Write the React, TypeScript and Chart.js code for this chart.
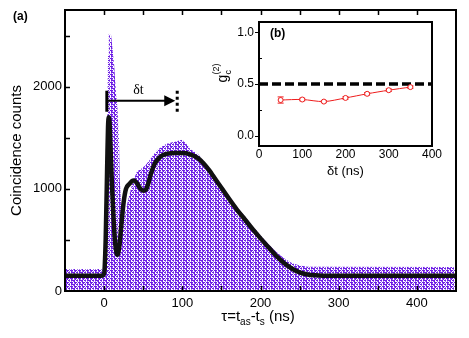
import React, { useEffect, useRef } from "react";
import { Chart, registerables } from "chart.js";
Chart.register(...registerables);

// ---- main panel (a) data ----
const fitTau = [-50, -3, 0, 2, 4, 5, 6, 7, 8, 10, 12, 14, 16, 17, 18, 20, 22, 25, 28, 32, 36, 38, 42, 46, 50, 53, 56, 60, 65, 70, 75, 80, 90, 100, 110, 120, 127, 135, 140, 150, 160, 170, 180, 190, 200, 210, 220, 230, 240, 250, 260, 270, 280, 450];
const fitCounts = [150, 150, 170, 500, 1250, 1600, 1700, 1650, 1450, 1050, 720, 480, 370, 355, 370, 470, 640, 870, 1000, 1045, 1078, 1082, 1055, 1005, 982, 988, 1040, 1150, 1250, 1300, 1330, 1342, 1350, 1350, 1338, 1300, 1250, 1175, 1120, 1010, 900, 795, 700, 605, 515, 430, 345, 275, 220, 182, 162, 153, 150, 150];

const dataTau = [-50, -1, 0, 2, 4, 5, 6, 9, 11, 13, 15, 17, 19, 20, 22, 25, 28, 31, 36, 42, 48, 53, 58, 63, 68, 75, 80, 90, 100, 105, 110, 120, 130, 140, 150, 160, 170, 180, 190, 200, 210, 220, 230, 240, 250, 260, 450];
const dataCounts = [215, 215, 230, 300, 1500, 2300, 2520, 2500, 2350, 2200, 1950, 1800, 1500, 1100, 800, 720, 800, 900, 1050, 1170, 1200, 1230, 1280, 1330, 1380, 1420, 1440, 1460, 1480, 1440, 1390, 1340, 1250, 1150, 1040, 930, 825, 730, 635, 545, 460, 385, 320, 275, 250, 238, 235];

const mainXLabels = [0, 100, 200, 300, 400];
const mainXTickMarks = [0, 50, 100, 150, 200, 250, 300, 350, 400];
const mainYLabels = [0, 1000, 2000];
const mainYTickMarks = [500, 1000, 1500, 2000, 2500];

// δt arrow annotation (data units)
const arrowStartTau = 3.5;
const arrowEndTau = 91;
const arrowDotsTau = 93.5;
const arrowCounts = 1862;

// ---- inset (b) data ----
const insetDelta = [50, 100, 150, 200, 250, 300, 350];
const insetG = [0.345, 0.35, 0.33, 0.365, 0.405, 0.44, 0.47];
const insetErr = [0.03, 0.012, 0.01, 0.012, 0.012, 0.012, 0.012];
const insetXLabels = [0, 100, 200, 300, 400];
const insetYLabels = [0.0, 0.5, 1.0];
const insetYMinor = [0.25, 0.75];
const thresholdG = 0.5;

const FONT = '"Liberation Sans", Arial, sans-serif';

function makePattern(): CanvasPattern | string {
  const rows = [
    "PPPWPPWP",
    "WLPWWLWL",
    "PWPPPWPP",
    "LWLPWLWP",
  ];
  const c = document.createElement("canvas");
  c.width = rows[0].length;
  c.height = rows.length;
  const g = c.getContext("2d");
  if (!g) return "rgb(125,45,235)";
  for (let r = 0; r < rows.length; r++) {
    for (let k = 0; k < rows[r].length; k++) {
      const ch = rows[r][k];
      g.fillStyle = ch === "P" ? "rgb(108,28,228)" : ch === "L" ? "rgb(165,120,240)" : "#ffffff";
      g.fillRect(k, r, 1, 1);
    }
  }
  const p = g.createPattern(c, "repeat");
  return p || "rgb(125,45,235)";
}

type Part = { t: string; size: number; dy: number; font?: string };

function drawRich(ctx: CanvasRenderingContext2D, parts: Part[], cx: number, by: number) {
  let total = 0;
  const widths: number[] = [];
  for (const p of parts) {
    ctx.font = `${p.size}px ${p.font || FONT}`;
    const w = ctx.measureText(p.t).width;
    widths.push(w);
    total += w;
  }
  let x = cx - total / 2;
  ctx.textAlign = "left";
  ctx.textBaseline = "alphabetic";
  parts.forEach((p, i) => {
    ctx.font = `${p.size}px ${p.font || FONT}`;
    ctx.fillText(p.t, x, by + p.dy);
    x += widths[i];
  });
}

const mainDecor = {
  id: "mainDecor",
  afterDraw(chart: any) {
    const { ctx, chartArea: a } = chart;
    const x = chart.scales.x;
    const y = chart.scales.y;
    ctx.save();
    ctx.strokeStyle = "#000";
    ctx.fillStyle = "#000";
    ctx.lineWidth = 2;
    ctx.strokeRect(a.left, a.top, a.right - a.left, a.bottom - a.top);
    ctx.lineWidth = 1.5;
    ctx.beginPath();
    for (const v of mainXTickMarks) {
      const px = Math.round(x.getPixelForValue(v)) + 0.5;
      ctx.moveTo(px, a.bottom);
      ctx.lineTo(px, a.bottom - 5);
      ctx.moveTo(px, a.top);
      ctx.lineTo(px, a.top + 5);
    }
    for (const v of mainYTickMarks) {
      const py = Math.round(y.getPixelForValue(v)) + 0.5;
      ctx.moveTo(a.left, py);
      ctx.lineTo(a.left + 5, py);
    }
    ctx.stroke();

    ctx.font = `13px ${FONT}`;
    ctx.textAlign = "center";
    ctx.textBaseline = "middle";
    for (const v of mainXLabels) ctx.fillText(String(v), x.getPixelForValue(v), a.bottom + 12);
    ctx.textAlign = "right";
    for (const v of mainYLabels) ctx.fillText(String(v), a.left - 3, y.getPixelForValue(v));

    // y title
    ctx.save();
    ctx.translate(17, (a.top + a.bottom) / 2);
    ctx.rotate(-Math.PI / 2);
    ctx.textAlign = "center";
    ctx.textBaseline = "middle";
    ctx.font = `15px ${FONT}`;
    ctx.fillText("Coincidence counts", 0, 0);
    ctx.restore();

    // x title
    drawRich(
      ctx,
      [
        { t: "τ=t", size: 15, dy: 0 },
        { t: "as", size: 10, dy: 4 },
        { t: "-t", size: 15, dy: 0 },
        { t: "s", size: 10, dy: 4 },
        { t: " (ns)", size: 15, dy: 0 },
      ],
      258,
      321
    );

    // (a)
    ctx.font = `bold 12px ${FONT}`;
    ctx.textAlign = "left";
    ctx.textBaseline = "middle";
    ctx.fillText("(a)", 13, 17);

    // δt arrow
    const x0 = x.getPixelForValue(arrowStartTau);
    const x1 = x.getPixelForValue(arrowEndTau);
    const xd = x.getPixelForValue(arrowDotsTau);
    const ya = y.getPixelForValue(arrowCounts);
    ctx.lineWidth = 3;
    ctx.beginPath();
    ctx.moveTo(x0, ya - 10);
    ctx.lineTo(x0, ya + 11);
    ctx.stroke();
    ctx.lineWidth = 2;
    ctx.beginPath();
    ctx.moveTo(x0, ya);
    ctx.lineTo(x1 - 8, ya);
    ctx.stroke();
    ctx.beginPath();
    ctx.moveTo(x1, ya);
    ctx.lineTo(x1 - 11, ya - 5.5);
    ctx.lineTo(x1 - 11, ya + 5.5);
    ctx.closePath();
    ctx.fill();
    for (let k = 0; k < 4; k++) {
      ctx.fillRect(xd - 1.5, ya - 10 + k * 6, 3, 3);
    }
    ctx.font = `14px "Liberation Serif", "DejaVu Serif", serif`;
    ctx.textAlign = "center";
    ctx.textBaseline = "middle";
    ctx.fillText("δt", x.getPixelForValue(44), ya - 10);
    ctx.restore();
  },
};

const insetDecor = {
  id: "insetDecor",
  beforeDatasetsDraw(chart: any) {
    const { ctx } = chart;
    const x = chart.scales.x;
    const y = chart.scales.y;
    ctx.save();
    ctx.strokeStyle = "#ee1c1c";
    ctx.lineWidth = 1;
    ctx.beginPath();
    insetDelta.forEach((d, i) => {
      const px = x.getPixelForValue(d);
      const yt = y.getPixelForValue(insetG[i] + insetErr[i]);
      const yb = y.getPixelForValue(insetG[i] - insetErr[i]);
      ctx.moveTo(px, yt);
      ctx.lineTo(px, yb);
      ctx.moveTo(px - 3, yt);
      ctx.lineTo(px + 3, yt);
      ctx.moveTo(px - 3, yb);
      ctx.lineTo(px + 3, yb);
    });
    ctx.stroke();
    ctx.restore();
  },
  afterDraw(chart: any) {
    const { ctx, chartArea: a } = chart;
    const x = chart.scales.x;
    const y = chart.scales.y;
    ctx.save();
    ctx.strokeStyle = "#000";
    ctx.fillStyle = "#000";
    ctx.lineWidth = 2;
    ctx.strokeRect(a.left, a.top, a.right - a.left, a.bottom - a.top);
    ctx.lineWidth = 1.2;
    ctx.beginPath();
    for (const v of insetYLabels) {
      const py = Math.round(y.getPixelForValue(v)) + 0.5;
      ctx.moveTo(a.left - 4, py);
      ctx.lineTo(a.left, py);
    }
    for (const v of insetYMinor) {
      const py = Math.round(y.getPixelForValue(v)) + 0.5;
      ctx.moveTo(a.left, py);
      ctx.lineTo(a.left + 3, py);
    }
    ctx.stroke();
    ctx.font = `12px ${FONT}`;
    ctx.textAlign = "right";
    ctx.textBaseline = "middle";
    for (const v of insetYLabels) ctx.fillText(v.toFixed(1), a.left - 5, y.getPixelForValue(v));
    ctx.textAlign = "center";
    for (const v of insetXLabels) ctx.fillText(String(v), x.getPixelForValue(v), a.bottom + 9);
    ctx.font = `13px ${FONT}`;
    ctx.fillText("δt (ns)", (a.left + a.right) / 2, a.bottom + 25);

    ctx.font = `bold 12px ${FONT}`;
    ctx.textAlign = "left";
    ctx.fillText("(b)", a.left + 11, a.top + 12);

    // y title g_c^(2)
    ctx.save();
    ctx.translate(27, (a.top + a.bottom) / 2 - 11);
    ctx.rotate(-Math.PI / 2);
    ctx.textBaseline = "alphabetic";
    ctx.font = `14px ${FONT}`;
    const gw = ctx.measureText("g").width;
    ctx.font = `9px ${FONT}`;
    const sw = Math.max(ctx.measureText("c").width, ctx.measureText("(2)").width);
    const start = -(gw + sw) / 2;
    ctx.font = `14px ${FONT}`;
    ctx.textAlign = "left";
    ctx.fillText("g", start, 0);
    ctx.font = `9px ${FONT}`;
    ctx.fillText("c", start + gw, 4);
    ctx.fillText("(2)", start + gw, -8);
    ctx.restore();
    ctx.restore();
  },
};

export default function App() {
  const mainRef = useRef<HTMLCanvasElement>(null);
  const insetRef = useRef<HTMLCanvasElement>(null);

  useEffect(() => {
    document.body.style.margin = "0";
    if (!mainRef.current || !insetRef.current) return;
    const pattern = makePattern();
    const main = new Chart(mainRef.current, {
      type: "line",
      data: {
        datasets: [
          {
            label: "fit",
            data: fitTau.map((t, i) => ({ x: t, y: fitCounts[i] })),
            borderColor: "#111111",
            borderWidth: 4.5,
            pointRadius: 0,
            cubicInterpolationMode: "monotone",
            fill: false,
            order: 0,
          },
          {
            label: "data",
            data: dataTau.map((t, i) => ({ x: t, y: dataCounts[i] })),
            borderColor: "rgba(0,0,0,0)",
            borderWidth: 0,
            backgroundColor: pattern as any,
            fill: "origin",
            pointRadius: 0,
            tension: 0,
            order: 1,
          },
        ],
      },
      options: {
        responsive: false,
        animation: false,
        layout: { padding: { left: 65, right: 13, top: 10, bottom: 47 } },
        scales: {
          x: { type: "linear", min: -50, max: 450, display: false },
          y: { type: "linear", min: 0, max: 2750, display: false },
        },
        plugins: { legend: { display: false }, tooltip: { enabled: false } },
      },
      plugins: [mainDecor],
    });

    const inset = new Chart(insetRef.current, {
      type: "line",
      data: {
        datasets: [
          {
            label: "g2",
            data: insetDelta.map((d, i) => ({ x: d, y: insetG[i] })),
            borderColor: "#ee1c1c",
            borderWidth: 1,
            pointRadius: 2.5,
            pointBackgroundColor: "#ffffff",
            pointBorderColor: "#ee1c1c",
            pointBorderWidth: 1,
            tension: 0.3,
            fill: false,
          },
          {
            label: "limit",
            data: [
              { x: insetXLabels[0], y: thresholdG },
              { x: insetXLabels[insetXLabels.length - 1], y: thresholdG },
            ],
            borderColor: "#000000",
            borderWidth: 3.5,
            borderDash: [9, 4],
            pointRadius: 0,
            fill: false,
          },
        ],
      },
      options: {
        responsive: false,
        animation: false,
        layout: { padding: { left: 59, right: 28, top: 10, bottom: 36 } },
        scales: {
          x: { type: "linear", min: 0, max: 400, display: false },
          y: { type: "linear", min: -0.1, max: 1.1, display: false },
        },
        plugins: { legend: { display: false }, tooltip: { enabled: false } },
      },
      plugins: [insetDecor],
    });

    return () => {
      main.destroy();
      inset.destroy();
    };
  }, []);

  return (
    <div style={{ position: "fixed", left: 0, top: 0, width: 469, height: 338, background: "#fff" }}>
      <canvas ref={mainRef} width={469} height={338} style={{ position: "absolute", left: 0, top: 0, width: 469, height: 338 }} />
      <canvas ref={insetRef} width={260} height={170} style={{ position: "absolute", left: 200, top: 12, width: 260, height: 170 }} />
    </div>
  );
}
